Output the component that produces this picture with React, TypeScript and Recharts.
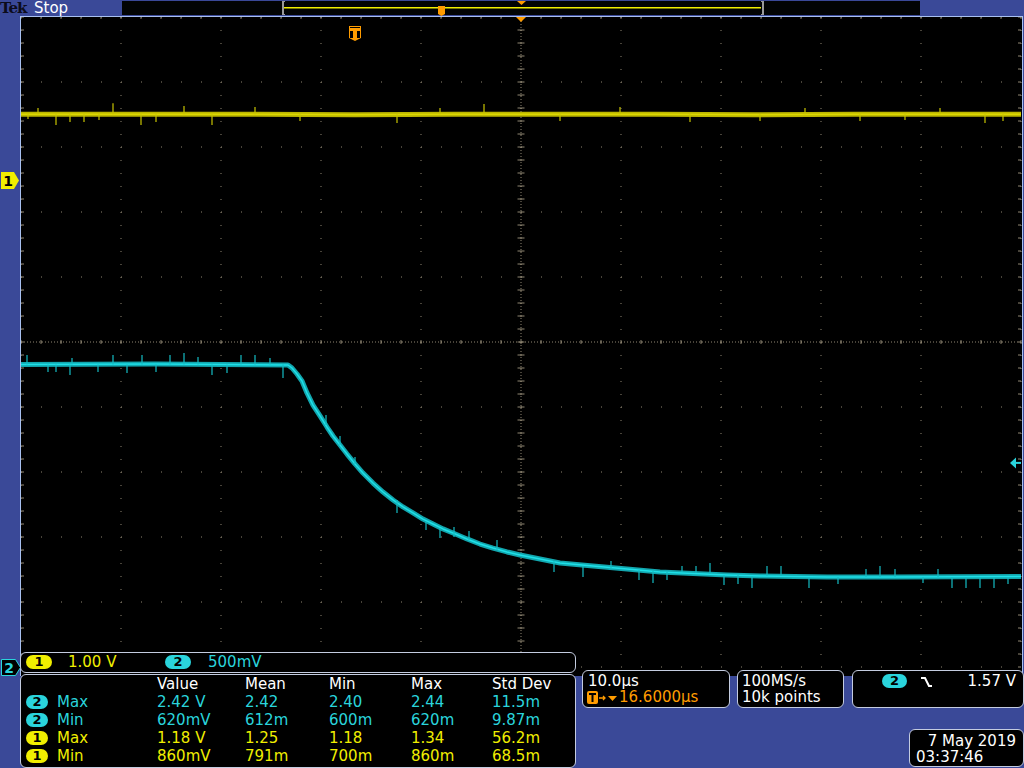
import React from "react";
import { LineChart, Line, XAxis, YAxis, CartesianGrid, ReferenceLine, ReferenceDot } from "recharts";

// horizontal: µs from the trigger, 10 µs/div, centre at +16.6 µs
const timeGrid = [-33.4, -23.4, -13.4, -3.4, 6.6, 16.6, 26.6, 36.6, 46.6, 56.6, 66.6];
// vertical: channel 2 volts, 500 mV/div, ground at the bottom line
const voltGrid = [0, 0.5, 1, 1.5, 2, 2.5, 3, 3.5, 4, 4.5, 5];

const ch2Time = [-33.4, -20, -10, -6.7, -6.3, -5.8, -5.3, -4.8, -4.2, -3.5, -2.8, -2.2, -1.5, -0.8, 0, 0.8, 1.8, 2.8, 3.8, 4.8, 5.8, 6.8, 7.8, 8.8, 9.8, 11.2, 12.5, 13.8, 15.2, 16.5, 18.0, 19.5, 20.5, 23.8, 27.2, 30.5, 33.8, 37.2, 40.5, 47.2, 53.8, 60, 66.6];
const ch2Volts = [2.327, 2.33, 2.325, 2.323, 2.3, 2.254, 2.2, 2.108, 2.015, 1.931, 1.846, 1.777, 1.708, 1.638, 1.562, 1.492, 1.415, 1.346, 1.285, 1.231, 1.185, 1.138, 1.1, 1.062, 1.031, 0.985, 0.946, 0.915, 0.885, 0.862, 0.838, 0.815, 0.8, 0.777, 0.754, 0.731, 0.719, 0.708, 0.7, 0.692, 0.692, 0.694, 0.696];

// channel 1, 1.00 V/div
const ch1Time = [-33.4, -20, -10, 0, 10, 20, 30, 40, 50, 66.6];
const ch1Volts = [1.02, 1.02, 1.02, 1.01, 1.02, 1.02, 1.02, 1.01, 1.02, 1.02];

// noise spikes
const ch1Level = 1.02;
const ch1SpikeT = [-32.7, -31.7, -29.9, -28.5, -27.1, -25.6, -24.2, -21.4, -19.9, -17.1, -14.3, -10.0, -5.5, 4.2, 8.5, 12.9, 20.5, 26.5, 33.5, 40.5, 45.0, 50.5, 55.0, 58.5, 63.0, 64.8];
const ch1SpikeTip = [0.946, 1.115, 0.854, 0.9, 0.9, 0.93, 1.19, 0.854, 0.9, 1.146, 0.854, 1.13, 0.915, 0.885, 1.115, 1.177, 0.915, 1.13, 0.9, 0.915, 1.115, 0.915, 0.93, 1.115, 0.885, 0.915];

const ch2SpikeT = [-32.8, -30.7, -29.9, -28.5, -28.3, -25.7, -24.2, -22.8, -21.3, -19.9, -18.5, -17.1, -15.7, -14.3, -12.8, -11.4, -10.0, -8.5,
  -7.2, -2.9, -1.5, 0.0, 4.2, 7.1, 8.5, 9.9, 11.4, 14.2, 19.9,
  22.8, 25.6, 28.4, 29.8, 31.2, 32.7, 34.1, 35.5, 36.9, 38.3, 39.7, 41.2, 42.6, 45.4, 48.3, 51.1, 52.5, 54.0, 56.8, 58.3, 59.7, 61.1, 62.5, 63.9, 65.3];
const ch2SpikeBase = [2.327, 2.327, 2.327, 2.327, 2.327, 2.327, 2.327, 2.327, 2.327, 2.327, 2.327, 2.327, 2.327, 2.327, 2.327, 2.327, 2.327, 2.327,
  2.327, 1.862, 1.708, 1.562, 1.285, 1.115, 1.069, 1.0, 0.977, 0.9, 0.815,
  0.777, 0.762, 0.746, 0.738, 0.731, 0.731, 0.723, 0.715, 0.708, 0.708, 0.7, 0.7, 0.7, 0.692, 0.692, 0.692, 0.692, 0.692, 0.692, 0.692, 0.692, 0.692, 0.692, 0.692, 0.692];
const ch2SpikeTip = [2.4, 2.269, 2.269, 2.246, 2.377, 2.269, 2.4, 2.262, 2.4, 2.269, 2.4, 2.415, 2.385, 2.246, 2.262, 2.4, 2.4, 2.377,
  2.223, 1.938, 1.777, 1.615, 1.185, 1.054, 0.992, 1.077, 1.046, 0.977, 0.731,
  0.692, 0.815, 0.669, 0.646, 0.669, 0.777, 0.777, 0.8, 0.631, 0.638, 0.608, 0.777, 0.777, 0.608, 0.638, 0.754, 0.777, 0.754, 0.646, 0.754, 0.608, 0.608, 0.608, 0.608, 0.638];

const trigLevel = 1.57;

const measHeader = ["Value", "Mean", "Min", "Max", "Std Dev"];
const measChan = [2, 2, 1, 1];
const measKind = ["Max", "Min", "Max", "Min"];
const measValue = ["2.42 V", "620mV", "1.18 V", "860mV"];
const measMean = ["2.42", "612m", "1.25", "791m"];
const measMin = ["2.40", "600m", "1.18", "700m"];
const measMax = ["2.44", "620m", "1.34", "860m"];
const measStd = ["11.5m", "9.87m", "56.2m", "68.5m"];

const BLUE = "#3a4998";
const YEL = "#f0ee00";
const CYAN = "#2ad4dc";
const ORANGE = "#ff9c00";
const GRID = "#8f8672";
const FONT = "'DejaVu Sans', sans-serif";

const ch1Data = ch1Time.map((t, i) => ({ t, v: ch1Volts[i] }));
const ch2Data = ch2Time.map((t, i) => ({ t, v: ch2Volts[i] }));

const minorT = timeGrid.slice(0, -1).flatMap((t) => [0, 2, 4, 6, 8].map((d) => t + d)).concat([66.6]);
const minorV = voltGrid.slice(0, -1).flatMap((v) => [0, 0.1, 0.2, 0.3, 0.4].map((d) => v + d)).concat([5]);

const Txt = ({ x, y, color = "#fff", size = 15, right, children }: any) => (
  <div
    style={{
      position: "absolute",
      top: y - 9,
      ...(right !== undefined ? { right: 1024 - right } : { left: x }),
      color,
      fontFamily: FONT,
      fontSize: size,
      lineHeight: "18px",
      whiteSpace: "pre",
    }}
  >
    {children}
  </div>
);

const Badge = ({ x, y, ch, w = 22 }: any) => (
  <div
    style={{
      position: "absolute",
      left: x,
      top: y - 7,
      width: w,
      height: 14,
      borderRadius: 7,
      background: ch === 1 ? YEL : CYAN,
      color: "#000",
      fontFamily: FONT,
      fontWeight: "bold",
      fontSize: 13,
      lineHeight: "14px",
      textAlign: "center",
    }}
  >
    {ch}
  </div>
);

const Panel = ({ x, y, w, h }: any) => (
  <div
    style={{
      position: "absolute",
      left: x,
      top: y,
      width: w,
      height: h,
      boxSizing: "border-box",
      background: "#000",
      border: "1px solid #c4cce0",
      borderRadius: 6,
    }}
  />
);

const TMarker = ({ cx, cy }: any) => (
  <g>
    <path d={`M${cx - 6},${cy + 9} h12 v12 l-6,3 l-6,-3 z`} fill={ORANGE} />
    <rect x={cx - 5} y={cy + 10} width={10} height={1} fill="#000" />
    <rect x={cx - 5} y={cy + 14} width={3} height={7} fill="#000" />
    <rect x={cx + 2} y={cy + 14} width={3} height={7} fill="#000" />
  </g>
);

const CenterArrow = ({ cx, cy }: any) => <path d={`M${cx - 5},${cy} h10 l-5,5 z`} fill={ORANGE} />;

const TrigArrow = ({ cx, cy }: any) => (
  <g>
    <path d={`M${cx - 11},${cy} l6,-5.5 v11 z`} fill={CYAN} />
    <rect x={cx - 6} y={cy - 1} width={6} height={2} fill={CYAN} />
  </g>
);

export default function App() {
  const seg = (key: string, a: any, b: any) => (
    <ReferenceLine key={key} yAxisId="ch2" segment={[a, b]} stroke={GRID} strokeWidth={1} ifOverflow="visible" />
  );

  return (
    <div style={{ position: "absolute", left: 0, top: 0, width: 1024, height: 768, background: BLUE, overflow: "hidden" }}>
      {/* top status bar */}
      <div style={{ position: "absolute", left: 0, top: 1, height: 16, lineHeight: "15px", fontFamily: "'DejaVu Serif', serif", fontWeight: "bold", fontSize: 15, letterSpacing: -1, color: "#0c0c1c" }}>Tek</div>
      <div style={{ position: "absolute", left: 34, top: 1, height: 16, lineHeight: "15px", fontFamily: FONT, fontSize: 15, color: "#fff" }}>Stop</div>
      <div style={{ position: "absolute", left: 122, top: 1, width: 798, height: 14, background: "#020404" }} />
      <svg width={1024} height={17} style={{ position: "absolute", left: 0, top: 0 }}>
        <rect x={283} y={7} width={478} height={1.5} fill={YEL} />
        <path d="M282,1 h3 v1 h-1 v12 h1 v1 h-3 z" fill="#9a9a9a" />
        <path d="M761,1 h3 v14 h-3 v-1 h1 v-12 h-1 z" fill="#9a9a9a" />
        <path d="M438,6 h7 v8 l-3.5,2 l-3.5,-2 z" fill={ORANGE} />
        <path d="M517,1 h9 l-4.5,4 z" fill={ORANGE} />
      </svg>

      {/* graticule frame */}
      <div style={{ position: "absolute", left: 20, top: 16, width: 1003, height: 660, boxSizing: "border-box", background: "#000", borderLeft: "1px solid #a8c0f0", borderTop: "1px solid #a8c0f0", borderRight: "1px solid #a8c0f0" }} />

      <div style={{ position: "absolute", left: 21, top: 17 }}>
        <LineChart width={1001} height={651} margin={{ top: 0, right: 1, bottom: 1, left: 0 }}>
          <XAxis type="number" dataKey="t" domain={[-33.4, 66.6]} ticks={timeGrid} hide allowDataOverflow />
          <YAxis yAxisId="ch2" type="number" domain={[0, 5]} ticks={voltGrid} hide allowDataOverflow />
          <YAxis yAxisId="ch1" type="number" domain={[-7.485, 2.515]} hide allowDataOverflow />
          <CartesianGrid yAxisId="ch2" horizontal={false} stroke={GRID} strokeDasharray="1 12" />
          <CartesianGrid yAxisId="ch2" vertical={false} stroke={GRID} strokeDasharray="1 19" />
          <ReferenceLine yAxisId="ch2" x={16.6} stroke={GRID} strokeDasharray="1 2" />
          <ReferenceLine yAxisId="ch2" y={2.5} stroke={GRID} strokeDasharray="1 2" />
          {minorT.map((t, i) => seg(`ch${i}`, { x: t, y: 2.485 }, { x: t, y: 2.515 }))}
          {minorV.map((v, i) => seg(`cv${i}`, { x: 16.25, y: v }, { x: 16.95, y: v }))}
          {minorT.map((t, i) => seg(`tt${i}`, { x: t, y: 5 }, { x: t, y: 4.985 }))}
          {minorV.map((v, i) => seg(`lt${i}`, { x: -33.4, y: v }, { x: -33.1, y: v }))}
          {minorV.map((v, i) => seg(`rt${i}`, { x: 66.3, y: v }, { x: 66.6, y: v }))}

          <Line yAxisId="ch1" data={ch1Data} dataKey="v" type="linear" stroke="#bcb600" strokeWidth={5} dot={false} isAnimationActive={false} />
          <Line yAxisId="ch1" data={ch1Data} dataKey="v" type="linear" stroke="#dcd800" strokeWidth={1.5} dot={false} isAnimationActive={false} />
          {ch1SpikeT.map((t, i) => (
            <ReferenceLine key={`s1${i}`} yAxisId="ch1" segment={[{ x: t, y: ch1Level }, { x: t, y: ch1SpikeTip[i] }]} stroke="#c8c400" strokeWidth={1.2} ifOverflow="visible" />
          ))}
          <Line yAxisId="ch2" data={ch2Data} dataKey="v" type="linear" stroke="#12a6ae" strokeWidth={5} dot={false} isAnimationActive={false} strokeLinejoin="round" />
          <Line yAxisId="ch2" data={ch2Data} dataKey="v" type="linear" stroke="#1ee0e8" strokeWidth={1.5} dot={false} isAnimationActive={false} strokeLinejoin="round" />
          {ch2SpikeT.map((t, i) => (
            <ReferenceLine key={`s2${i}`} yAxisId="ch2" segment={[{ x: t, y: ch2SpikeBase[i] }, { x: t, y: ch2SpikeTip[i] }]} stroke="#14bcc4" strokeWidth={1.2} ifOverflow="visible" />
          ))}

          <ReferenceDot yAxisId="ch2" x={0} y={5} ifOverflow="visible" shape={(p: any) => <TMarker cx={p.cx} cy={p.cy} />} />
          <ReferenceDot yAxisId="ch2" x={16.6} y={5} ifOverflow="visible" shape={(p: any) => <CenterArrow cx={p.cx} cy={p.cy} />} />
          <ReferenceDot yAxisId="ch2" x={66.6} y={trigLevel} ifOverflow="visible" shape={(p: any) => <TrigArrow cx={p.cx} cy={p.cy} />} />
        </LineChart>
      </div>

      {/* channel ground markers */}
      <svg width={22} height={768} style={{ position: "absolute", left: 0, top: 0 }}>
        <path d="M1,172 h13 l5,8.5 l-5,8.5 h-13 z" fill={YEL} />
        <text x={8} y={186} fontFamily={FONT} fontWeight="bold" fontSize={14} textAnchor="middle" fill="#000">1</text>
        <path d="M1.5,659.5 h14 l5,8 l-5,8 h-14 z" fill="#000" stroke={CYAN} strokeWidth={1} />
        <text x={9} y={673} fontFamily={FONT} fontWeight="bold" fontSize={14} textAnchor="middle" fill={CYAN}>2</text>
      </svg>

      {/* vertical scale readout */}
      <Panel x={20} y={652} w={556} h={21} />
      <Badge x={26} y={662} ch={1} w={26} />
      <Txt x={68} y={662} color={YEL}>1.00 V</Txt>
      <Badge x={165} y={662} ch={2} w={26} />
      <Txt x={208} y={662} color={CYAN}>500mV</Txt>

      {/* measurements */}
      <Panel x={20} y={674} w={556} h={94} />
      {measHeader.map((h, i) => (
        <Txt key={h} x={[157, 245, 329, 411, 492][i]} y={684}>{h}</Txt>
      ))}
      {measKind.map((k, r) => {
        const y = 702 + r * 18;
        const c = measChan[r] === 1 ? YEL : CYAN;
        return (
          <React.Fragment key={r}>
            <Badge x={26} y={y} ch={measChan[r]} />
            <Txt x={57} y={y} color={c}>{k}</Txt>
            <Txt x={157} y={y} color={c}>{measValue[r]}</Txt>
            <Txt x={245} y={y} color={c}>{measMean[r]}</Txt>
            <Txt x={329} y={y} color={c}>{measMin[r]}</Txt>
            <Txt x={411} y={y} color={c}>{measMax[r]}</Txt>
            <Txt x={492} y={y} color={c}>{measStd[r]}</Txt>
          </React.Fragment>
        );
      })}

      {/* timebase */}
      <Panel x={582} y={670} w={148} h={38} />
      <Txt x={588} y={681}>10.0µs</Txt>
      <svg width={32} height={14} style={{ position: "absolute", left: 587, top: 691 }}>
        <rect x={0} y={0} width={11} height={13} rx={2} fill={ORANGE} />
        <rect x={2} y={2} width={7} height={2} fill="#000" />
        <rect x={4.5} y={4} width={2} height={7} fill="#000" />
        <path d="M12,7 h6 M16,5 l2,2 l-2,2" stroke={ORANGE} strokeWidth={1.3} fill="none" />
        <path d="M21,5 h9 l-4.5,5 z" fill={ORANGE} />
      </svg>
      <Txt x={619} y={697} color={ORANGE}>16.6000µs</Txt>

      {/* acquisition */}
      <Panel x={737} y={670} w={107} h={38} />
      <Txt x={742} y={681}>100MS/s</Txt>
      <Txt x={742} y={697}>10k points</Txt>

      {/* trigger */}
      <Panel x={852} y={670} w={172} h={38} />
      <Badge x={882} y={681} ch={2} w={25} />
      <svg width={14} height={14} style={{ position: "absolute", left: 920, top: 675 }}>
        <path d="M1,3 h4 l4,8 h3" stroke="#fff" strokeWidth={2} fill="none" />
      </svg>
      <Txt right={1016} y={681}>1.57 V</Txt>

      {/* date */}
      <Panel x={909} y={729} w={115} h={38} />
      <Txt right={1016} y={741}>7 May 2019</Txt>
      <Txt x={916} y={757}>03:37:46</Txt>
    </div>
  );
}
